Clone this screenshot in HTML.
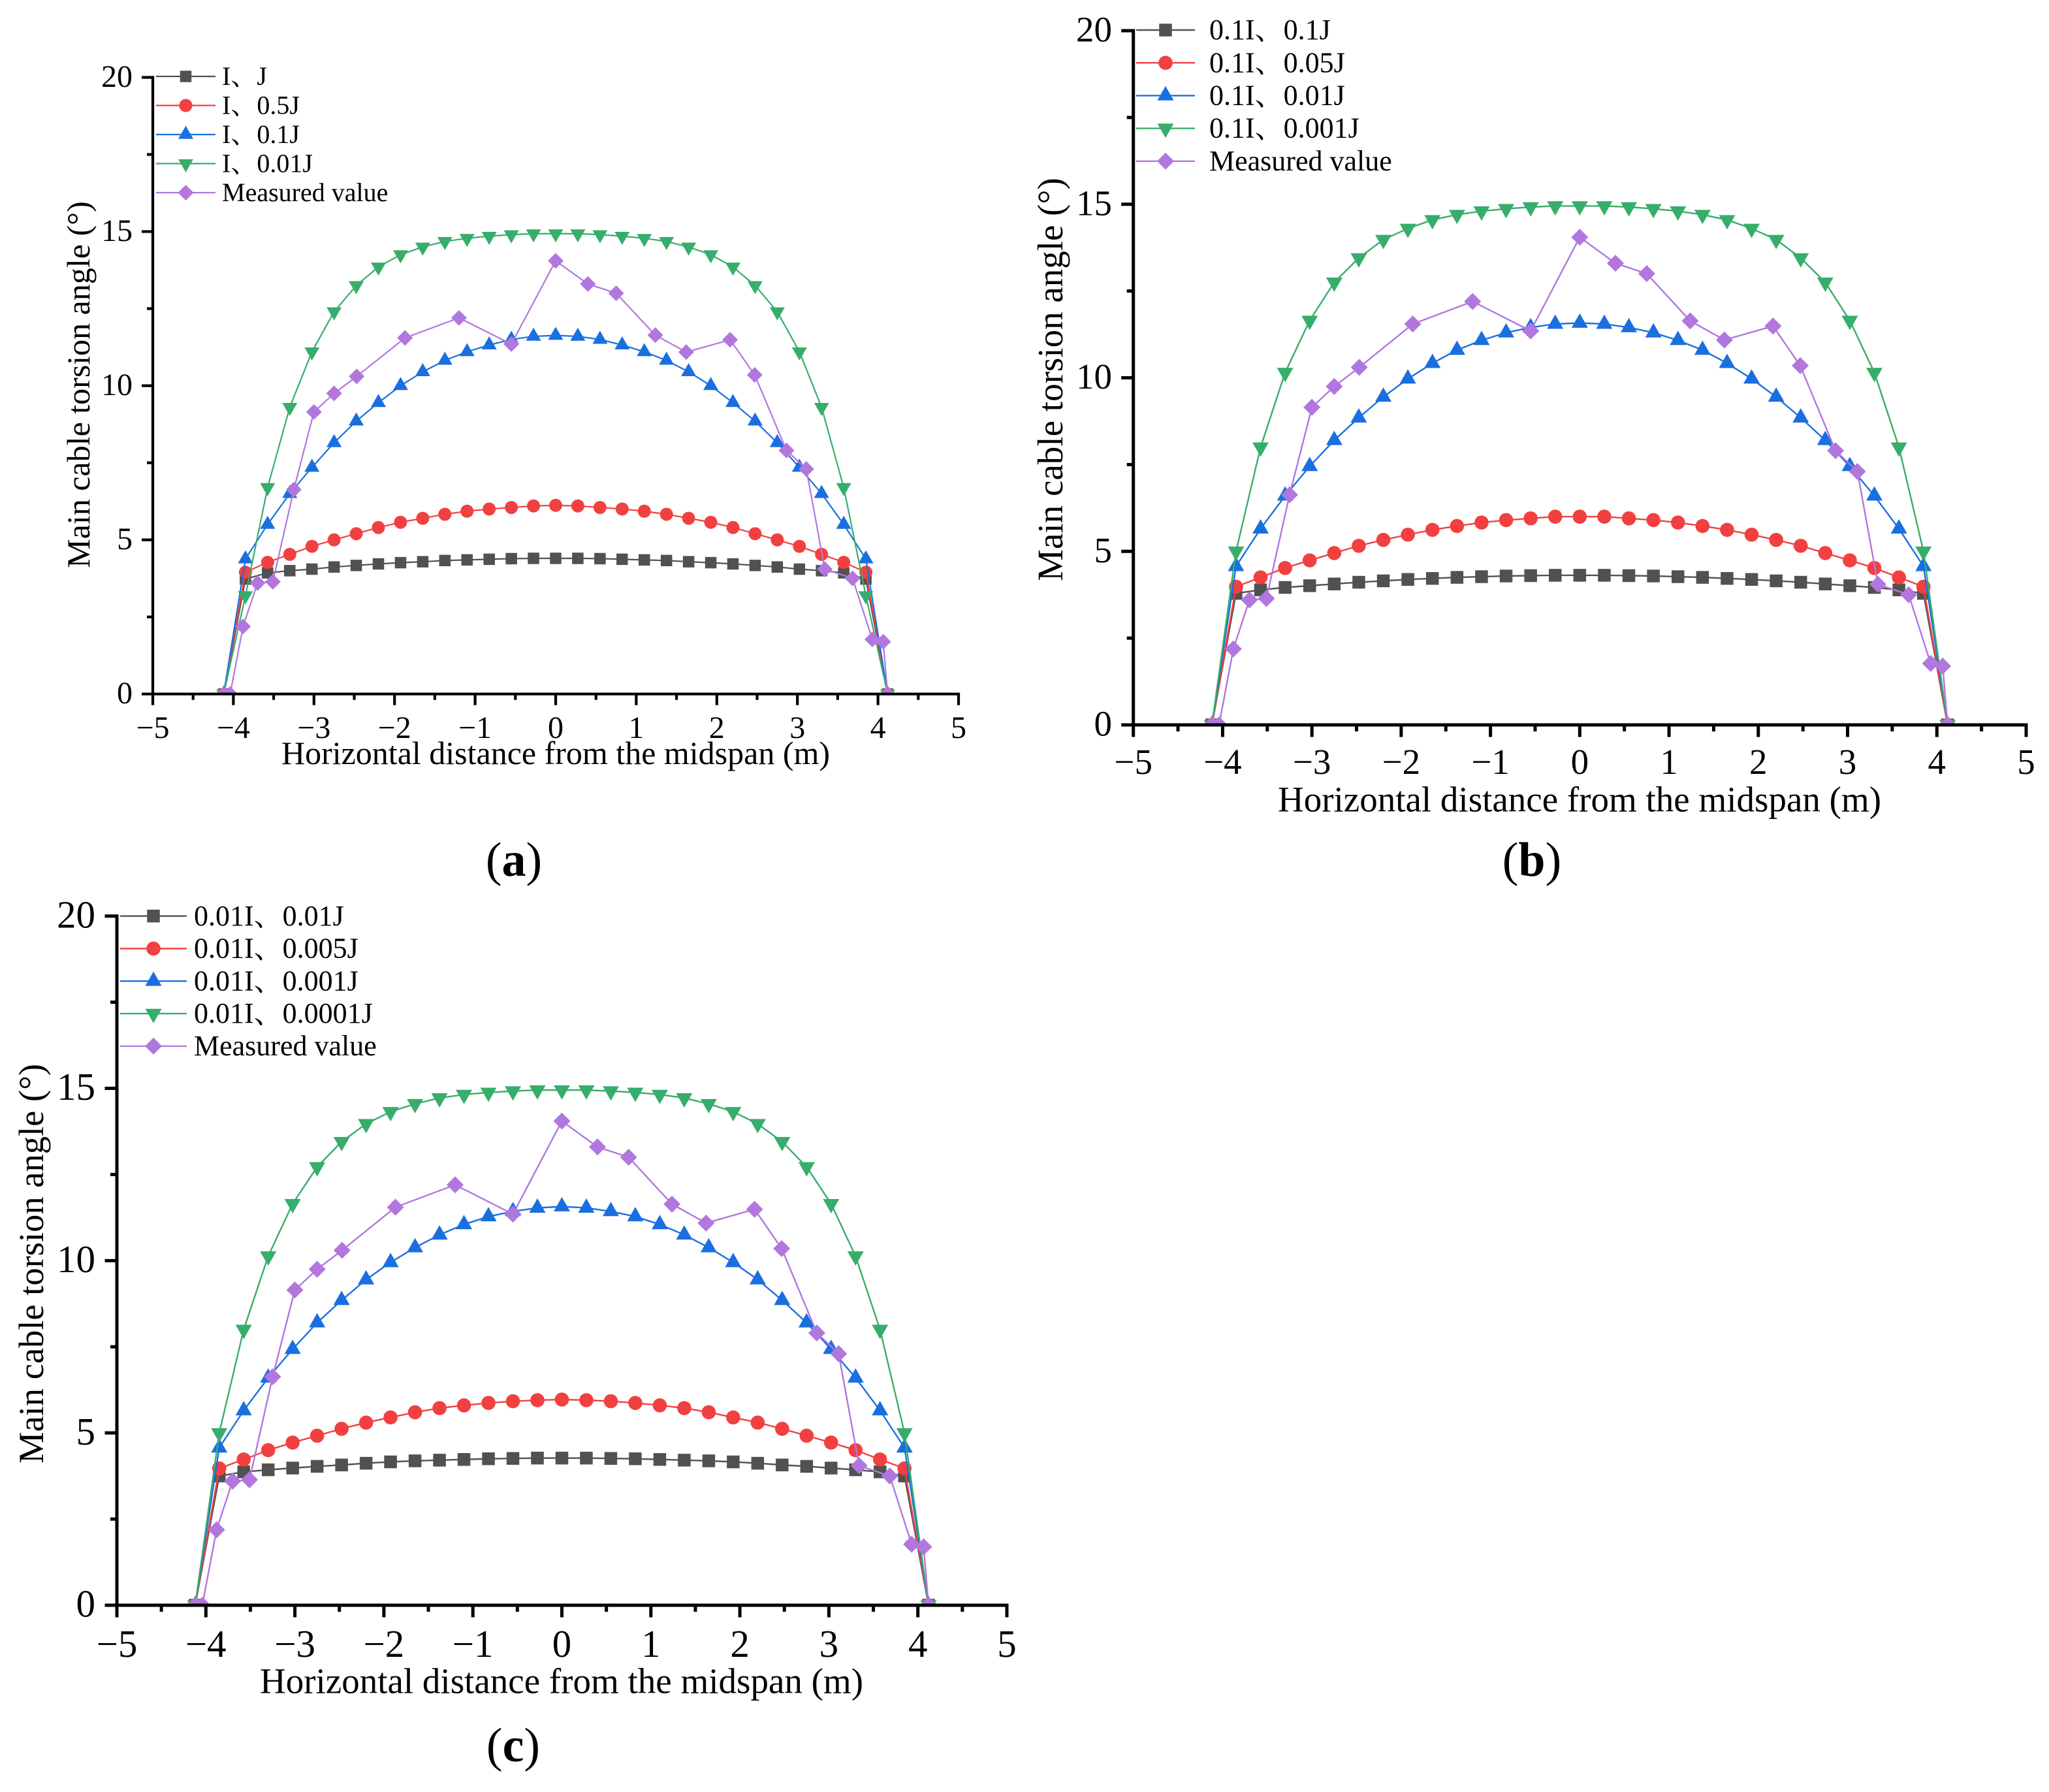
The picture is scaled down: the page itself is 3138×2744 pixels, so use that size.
<!DOCTYPE html>
<html lang="en">
<head>
<meta charset="utf-8">
<title>Main cable torsion angle panels</title>
<style>
html,body{margin:0;padding:0;background:#fff;}
svg{display:block;}
text{font-family:"Liberation Serif","Noto Serif CJK SC",serif;fill:#000;}
</style>
</head>
<body>
<svg id="figure" xmlns="http://www.w3.org/2000/svg" width="3138" height="2744" viewBox="0 0 3138 2744">
  <rect x="0" y="0" width="3138" height="2744" fill="#ffffff"/>
  <g id="panel-a"></g>
  <g id="panel-b"></g>
  <g id="panel-c"></g>
  <text x="851" y="1170" font-size="50" text-anchor="middle">Horizontal distance from the midspan (m)</text>
  <text x="2419" y="1242.7" font-size="55" text-anchor="middle">Horizontal distance from the midspan (m)</text>
  <text x="860" y="2592.7" font-size="55" text-anchor="middle">Horizontal distance from the midspan (m)</text>
  <text transform="translate(137 589) rotate(-90)" font-size="50" text-anchor="middle">Main cable torsion angle (°)</text>
  <text transform="translate(1627 581) rotate(-90)" font-size="55" text-anchor="middle">Main cable torsion angle (°)</text>
  <text transform="translate(66 1935) rotate(-90)" font-size="54.5" text-anchor="middle">Main cable torsion angle (°)</text>
  <text x="787" y="1341" font-size="74" text-anchor="middle">(<tspan font-weight="bold">a</tspan>)</text>
  <text x="2346" y="1341" font-size="74" text-anchor="middle">(<tspan font-weight="bold">b</tspan>)</text>
  <text x="786" y="2697" font-size="74" text-anchor="middle">(<tspan font-weight="bold">c</tspan>)</text>
</svg>
<script>
// ---- shared data ----
const simX = [-4.12,-3.85,-3.575,-3.3,-3.025,-2.75,-2.475,-2.2,-1.925,-1.65,-1.375,-1.1,-0.825,-0.55,-0.275,0,0.275,0.55,0.825,1.1,1.375,1.65,1.925,2.2,2.475,2.75,3.025,3.3,3.575,3.85,4.12];
const measuredX = [-4.12,-4.04,-3.88,-3.7,-3.51,-3.25,-3.0,-2.75,-2.47,-1.87,-1.2,-0.55,0,0.4,0.75,1.237,1.62,2.165,2.47,2.865,3.11,3.34,3.685,3.93,4.065,4.12];
const measuredY = [0,0,2.19,3.6,3.64,6.63,9.15,9.75,10.3,11.55,12.2,11.35,14.05,13.3,13.0,11.64,11.09,11.49,10.35,7.9,7.3,4.05,3.75,1.77,1.695,0];
const xTicks = [-5,-4,-3,-2,-1,0,1,2,3,4,5];
const xMinorTicks = [-4.5,-3.5,-2.5,-1.5,-0.5,0.5,1.5,2.5,3.5,4.5];
const yTicks = [0,5,10,15,20];
const yMinorTicks = [2.5,7.5,12.5,17.5];

// ---- panel a values ----
const aBlack = [0,3.73,3.93,4.0,4.05,4.12,4.17,4.22,4.26,4.29,4.33,4.35,4.37,4.39,4.4,4.4,4.4,4.39,4.37,4.35,4.33,4.29,4.26,4.22,4.17,4.12,4.05,4.0,3.93,3.73,0];
const aRed = [0,3.95,4.27,4.53,4.79,5.0,5.2,5.4,5.57,5.7,5.83,5.93,6.0,6.05,6.1,6.12,6.1,6.05,6.0,5.93,5.83,5.7,5.57,5.4,5.2,5.0,4.79,4.53,4.27,3.95,0];
const aBlue = [0,4.38,5.5,6.5,7.35,8.15,8.85,9.45,10.0,10.45,10.82,11.1,11.32,11.5,11.6,11.63,11.6,11.5,11.32,11.1,10.82,10.45,10.0,9.45,8.85,8.15,7.35,6.5,5.5,4.38,0];
const aGreen = [0,3.19,6.7,9.3,11.1,12.4,13.25,13.85,14.25,14.5,14.68,14.78,14.85,14.9,14.93,14.93,14.93,14.9,14.85,14.78,14.68,14.5,14.25,13.85,13.25,12.4,11.1,9.3,6.7,3.19,0];
const aLabels = ["I、J","I、0.5J","I、0.1J","I、0.01J","Measured value"];

// ---- panel b values ----
const bBlack = [0,3.79,3.89,3.96,4.01,4.06,4.11,4.15,4.19,4.22,4.25,4.27,4.29,4.3,4.31,4.31,4.31,4.3,4.29,4.27,4.25,4.22,4.19,4.15,4.11,4.06,4.01,3.96,3.89,3.79,0];
const bRed = [0,3.98,4.25,4.52,4.74,4.95,5.16,5.33,5.48,5.62,5.73,5.83,5.9,5.95,6.0,6.0,6.0,5.95,5.9,5.83,5.73,5.62,5.48,5.33,5.16,4.95,4.74,4.52,4.25,3.98,0];
const bBlue = [0,4.57,5.65,6.6,7.45,8.2,8.85,9.45,9.97,10.42,10.8,11.08,11.3,11.45,11.55,11.58,11.55,11.45,11.3,11.08,10.8,10.42,9.97,9.45,8.85,8.2,7.45,6.6,5.65,4.57,0];
const bGreen = [0,5.0,8.0,10.15,11.65,12.75,13.45,13.98,14.3,14.55,14.7,14.8,14.87,14.92,14.95,14.95,14.95,14.92,14.87,14.8,14.7,14.55,14.3,13.98,13.45,12.75,11.65,10.15,8.0,5.0,0];
const bLabels = ["0.1I、0.1J","0.1I、0.05J","0.1I、0.01J","0.1I、0.001J","Measured value"];

// ---- panel c values ----
const cBlack = [0,3.75,3.87,3.93,3.98,4.03,4.07,4.12,4.16,4.19,4.21,4.23,4.25,4.26,4.27,4.27,4.27,4.26,4.25,4.23,4.21,4.19,4.16,4.12,4.07,4.03,3.98,3.93,3.87,3.75,0];
const cRed = [0,3.97,4.23,4.5,4.72,4.92,5.12,5.3,5.45,5.6,5.72,5.8,5.87,5.92,5.95,5.97,5.95,5.92,5.87,5.8,5.72,5.6,5.45,5.3,5.12,4.92,4.72,4.5,4.23,3.97,0];
const cBlue = [0,4.57,5.65,6.6,7.43,8.2,8.85,9.45,9.95,10.38,10.75,11.05,11.28,11.43,11.53,11.57,11.53,11.43,11.28,11.05,10.75,10.38,9.95,9.45,8.85,8.2,7.43,6.6,5.65,4.57,0];
const cGreen = [0,5.0,8.0,10.13,11.65,12.72,13.45,13.97,14.32,14.55,14.72,14.82,14.88,14.92,14.95,14.95,14.95,14.92,14.88,14.82,14.72,14.55,14.32,13.97,13.45,12.72,11.65,10.13,8.0,5.0,0];
const cLabels = ["0.01I、0.01J","0.01I、0.005J","0.01I、0.001J","0.01I、0.0001J","Measured value"];

const seriesColors = ["#515151","#f14040","#1a6fdf","#37ad6b","#b177de"];
const seriesKeys = ["square","circle","triangle-up","triangle-down","diamond"];

const NS = "http://www.w3.org/2000/svg";

function make(tag, attrs, parent) {
  const el = document.createElementNS(NS, tag);
  for (const k in attrs) el.setAttribute(k, attrs[k]);
  parent.appendChild(el);
  return el;
}

function drawMarker(parent, kind, cx, cy, color, m) {
  let el;
  if (kind === "square") {
    el = make("rect", {x: cx - m.sq / 2, y: cy - m.sq / 2, width: m.sq, height: m.sq, fill: color}, parent);
  } else if (kind === "circle") {
    el = make("circle", {cx: cx, cy: cy, r: m.r, fill: color}, parent);
  } else if (kind === "triangle-up") {
    el = make("polygon", {points: (cx - m.tw / 2) + "," + (cy + m.th / 3) + " " + (cx + m.tw / 2) + "," + (cy + m.th / 3) + " " + cx + "," + (cy - 2 * m.th / 3), fill: color}, parent);
  } else if (kind === "triangle-down") {
    el = make("polygon", {points: (cx - m.tw / 2) + "," + (cy - m.th / 3) + " " + (cx + m.tw / 2) + "," + (cy - m.th / 3) + " " + cx + "," + (cy + 2 * m.th / 3), fill: color}, parent);
  } else {
    el = make("polygon", {points: (cx - m.dw / 2) + "," + cy + " " + cx + "," + (cy - m.dh / 2) + " " + (cx + m.dw / 2) + "," + cy + " " + cx + "," + (cy + m.dh / 2), fill: color}, parent);
  }
  
  
  return el;
}

function fmtTick(v) {
  return v < 0 ? "\u2212" + Math.abs(v) : String(v);
}

function drawPanel(p) {
  const g = document.getElementById(p.id);
  const sx = function (v) { return p.x0 + (v + 5) * (p.x1 - p.x0) / 10; };
  const sy = function (v) { return p.yBase - v * (p.yBase - p.yTop) / 20; };

  // plot-area clip: marks never spill below the x axis
  const clip = make("clipPath", {id: "clip-" + p.id}, g);
  make("rect", {x: p.x0, y: p.yTop - 40, width: p.x1 - p.x0, height: p.yBase - p.yTop + 40}, clip);
  const plot = make("g", {"clip-path": "url(#clip-" + p.id + ")"}, g);
  
  

  // series
  p.series.forEach(function (s, i) {
    const sg = make("g", {}, plot);
    
    
    const pts = s.ys.map(function (y, j) { return sx(s.xs[j]).toFixed(2) + "," + sy(y).toFixed(2); }).join(" ");
    const line = make("polyline", {points: pts, fill: "none", stroke: seriesColors[i], "stroke-width": p.lineW, "stroke-linejoin": "round"}, sg);
    
    
    s.ys.forEach(function (y, j) {
      drawMarker(sg, seriesKeys[i], sx(s.xs[j]), sy(y), seriesColors[i], p.marker);
    });
  });

  // axes
  const axisG = make("g", {stroke: "#000", "stroke-width": p.axisW, fill: "none"}, g);
  
  
  const half = p.axisW / 2;
  const yAxis = make("line", {x1: p.x0, x2: p.x0, y1: p.yTop - half, y2: p.yBase + half}, axisG);
  
  
  const xAxis = make("line", {x1: p.x0 - half, x2: p.x1 + half, y1: p.yBase, y2: p.yBase}, axisG);
  
  

  xTicks.forEach(function (v) {
    const t = make("line", {x1: sx(v), x2: sx(v), y1: p.yBase, y2: p.yBase + p.majorLen}, axisG);
    
    
    const lab = make("text", {x: sx(v), y: p.xLabelY, "font-size": p.tickFont, "text-anchor": "middle", stroke: "none"}, g);
    lab.textContent = fmtTick(v);
    
    
  });
  xMinorTicks.forEach(function (v) {
    const t = make("line", {x1: sx(v), x2: sx(v), y1: p.yBase, y2: p.yBase + p.minorLen}, axisG);
    
    
  });
  yTicks.forEach(function (v) {
    const t = make("line", {x1: p.x0 - p.majorLen, x2: p.x0, y1: sy(v), y2: sy(v)}, axisG);
    
    
    const lab = make("text", {x: p.yLabelX, y: sy(v) + p.tickFont * 0.3, "font-size": p.tickFont, "text-anchor": "end", stroke: "none"}, g);
    lab.textContent = fmtTick(v);
    
    
  });
  yMinorTicks.forEach(function (v) {
    const t = make("line", {x1: p.x0 - p.minorLen, x2: p.x0, y1: sy(v), y2: sy(v)}, axisG);
    
    
  });

  // legend
  const lg = make("g", {}, g);
  
  
  p.labels.forEach(function (label, i) {
    const ey = p.legendY + i * p.legendStep;
    const eg = make("g", {}, lg);
    
    
    const ln = make("line", {x1: p.legendX0, x2: p.legendX1, y1: ey, y2: ey, stroke: seriesColors[i], "stroke-width": p.lineW}, eg);
    
    
    drawMarker(eg, seriesKeys[i], (p.legendX0 + p.legendX1) / 2, ey, seriesColors[i], p.marker);
    const tx = make("text", {x: p.legendTextX, y: ey + p.legendFont * 0.32, "font-size": p.legendFont}, eg);
    tx.textContent = label;
    
    
  });
}

function seriesFor(black, red, blue, green) {
  return [
    {xs: simX, ys: black},
    {xs: simX, ys: red},
    {xs: simX, ys: blue},
    {xs: simX, ys: green},
    {xs: measuredX, ys: measuredY}
  ];
}

drawPanel({
  id: "panel-a", x0: 234, x1: 1468, yTop: 118.5, yBase: 1062.7,
  axisW: 4.2, majorLen: 17, minorLen: 9, lineW: 2.2, tickFont: 48, xLabelY: 1130, yLabelX: 203,
  marker: {sq: 17.5, r: 10, tw: 23, th: 20, dw: 24, dh: 24},
  series: seriesFor(aBlack, aRed, aBlue, aGreen), labels: aLabels,
  legendY: 117, legendStep: 44.5, legendX0: 239, legendX1: 330, legendTextX: 340, legendFont: 40
});
drawPanel({
  id: "panel-b", x0: 1735.7, x1: 3103, yTop: 47, yBase: 1110,
  axisW: 5, majorLen: 18.5, minorLen: 10, lineW: 2.4, tickFont: 55, xLabelY: 1185, yLabelX: 1703,
  marker: {sq: 19.5, r: 10.8, tw: 25, th: 22, dw: 26, dh: 26},
  series: seriesFor(bBlack, bRed, bBlue, bGreen), labels: bLabels,
  legendY: 46, legendStep: 50.2, legendX0: 1740, legendX1: 1830, legendTextX: 1852, legendFont: 44
});
drawPanel({
  id: "panel-c", x0: 179, x1: 1542, yTop: 1402.7, yBase: 2458,
  axisW: 5, majorLen: 18.5, minorLen: 10, lineW: 2.4, tickFont: 59, xLabelY: 2537, yLabelX: 146,
  marker: {sq: 19.5, r: 10.8, tw: 25, th: 22, dw: 26, dh: 26},
  series: seriesFor(cBlack, cRed, cBlue, cGreen), labels: cLabels,
  legendY: 1402.7, legendStep: 49.8, legendX0: 184, legendX1: 286, legendTextX: 297, legendFont: 44
});
</script>
</body>
</html>
